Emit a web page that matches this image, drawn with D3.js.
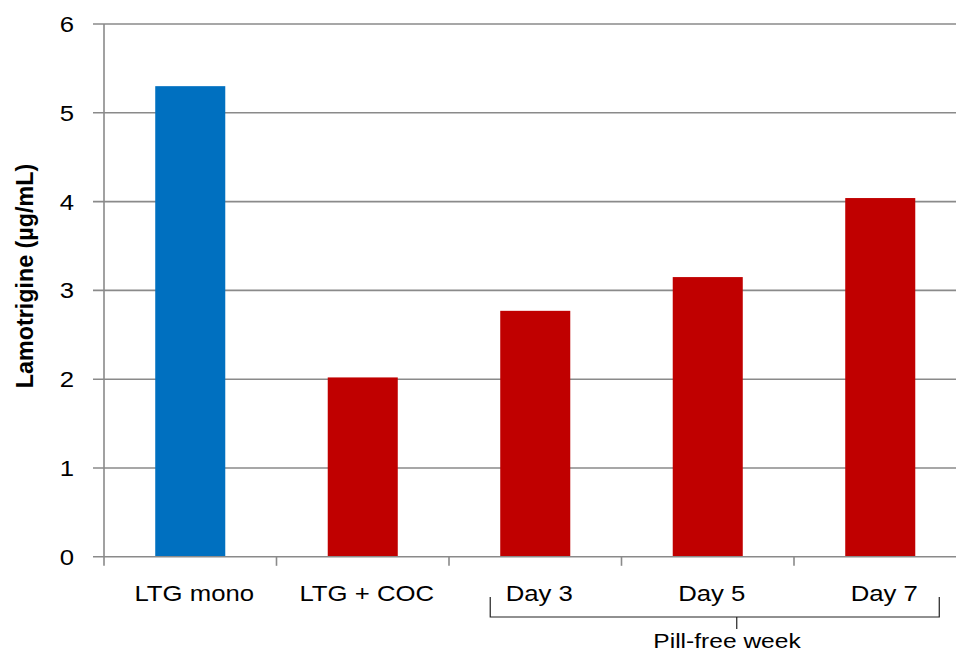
<!DOCTYPE html>
<html>
<head>
<meta charset="utf-8">
<script src="https://cdn.jsdelivr.net/npm/d3@7"></script>
<style>
  body { margin: 0; background: #fff; }
  svg text { font-family: "Liberation Sans", Arial, sans-serif; fill: #000; }
</style>
</head>
<body>
<div id="chart"></div>
<script>
// DATA
var categories = ["LTG mono", "LTG + COC", "Day 3", "Day 5", "Day 7"];
var values = [5.3, 2.02, 2.77, 3.15, 4.04];
var yTicks = [0, 1, 2, 3, 4, 5, 6];
var groupLabel = "Pill-free week";
var groupStart = "Day 3", groupEnd = "Day 7";

// SIZING
var W = 956, H = 652;
var margin = { top: 24, left: 104, bottom: 95 };
var bandW = 172.5;
var stretch = 1.17; // the picture's text is a bit wide

var svg = d3.select("#chart").append("svg")
    .attr("width", W).attr("height", H);

var x = d3.scaleBand()
    .domain(categories)
    .range([margin.left, margin.left + bandW * categories.length])
    .paddingInner(0.594).paddingOuter(0.297);

// band positions for ticks (no padding)
var xTick = d3.scaleBand()
    .domain(categories)
    .range([margin.left, margin.left + bandW * categories.length]);

var y = d3.scaleLinear()
    .domain([0, 6])
    .range([H - margin.bottom - 0.2, margin.top]);

// GRIDLINES
svg.append("g").selectAll("line")
    .data(yTicks.filter(function (d) { return d > 0; }))
    .enter().append("line")
    .attr("x1", margin.left - 11).attr("x2", W)
    .attr("y1", function (d) { return y(d); })
    .attr("y2", function (d) { return y(d); })
    .attr("stroke", "#8a8a8a").attr("stroke-width", 1.6);

// BARS
svg.append("g").selectAll("rect")
    .data(values)
    .enter().append("rect")
    .attr("x", function (d, i) { return x(categories[i]); })
    .attr("width", x.bandwidth())
    .attr("y", function (d) { return y(d); })
    .attr("height", function (d) { return y(0) - y(d); })
    .attr("fill", function (d, i) { return i == 0 ? "#0070C0" : "#C00000"; });

// AXES
svg.append("line")
    .attr("x1", margin.left).attr("x2", margin.left)
    .attr("y1", y(6)).attr("y2", y(0))
    .attr("stroke", "#8a8a8a").attr("stroke-width", 1.6);
svg.append("line")
    .attr("x1", margin.left - 11).attr("x2", W)
    .attr("y1", y(0)).attr("y2", y(0))
    .attr("stroke", "#8a8a8a").attr("stroke-width", 1.6);

// x ticks at band boundaries
var bounds = categories.map(function (c) { return xTick(c); });
svg.append("g").selectAll("line")
    .data(bounds)
    .enter().append("line")
    .attr("x1", function (d) { return d; }).attr("x2", function (d) { return d; })
    .attr("y1", y(0)).attr("y2", y(0) + 9)
    .attr("stroke", "#8a8a8a").attr("stroke-width", 1.6);

// y tick labels
svg.append("g").selectAll("text")
    .data(yTicks)
    .enter().append("text")
    .attr("transform", function (d) {
        return "translate(74," + (y(d) + 8) + ") scale(" + stretch + ",1)";
    })
    .attr("text-anchor", "end")
    .style("font-size", "22px")
    .text(function (d) { return d; });

// x labels
svg.append("g").selectAll("text")
    .data(categories)
    .enter().append("text")
    .attr("transform", function (d) {
        return "translate(" + (xTick(d) + bandW / 2 + 4) + ",601) scale(" + stretch + ",1)";
    })
    .attr("text-anchor", "middle")
    .style("font-size", "22px")
    .text(function (d) { return d; });

// y title
svg.append("text")
    .attr("transform", "translate(33,276) scale(1.06,1) rotate(-90)")
    .attr("text-anchor", "middle")
    .style("font-size", "23.3px")
    .style("font-weight", "bold")
    .text("Lamotrigine (\u00b5g/mL)");

// GROUP BRACKET
var gx1 = x(groupStart) - 10;
var gx2 = x(groupEnd) + x.bandwidth() + 24;
var gy = 617;
svg.append("path")
    .attr("d", "M" + gx1 + ",597V" + gy + "H" + gx2 + "V597")
    .attr("fill", "none").attr("stroke", "#222").attr("stroke-width", 1.2);
var gmid = (gx1 + gx2) / 2 + 22;
svg.append("line")
    .attr("x1", gmid).attr("x2", gmid)
    .attr("y1", gy).attr("y2", 629)
    .attr("stroke", "#222").attr("stroke-width", 1.2);
svg.append("text")
    .attr("transform", "translate(727,648) scale(" + stretch + ",1)")
    .attr("text-anchor", "middle")
    .style("font-size", "21px")
    .text(groupLabel);
</script>
</body>
</html>
